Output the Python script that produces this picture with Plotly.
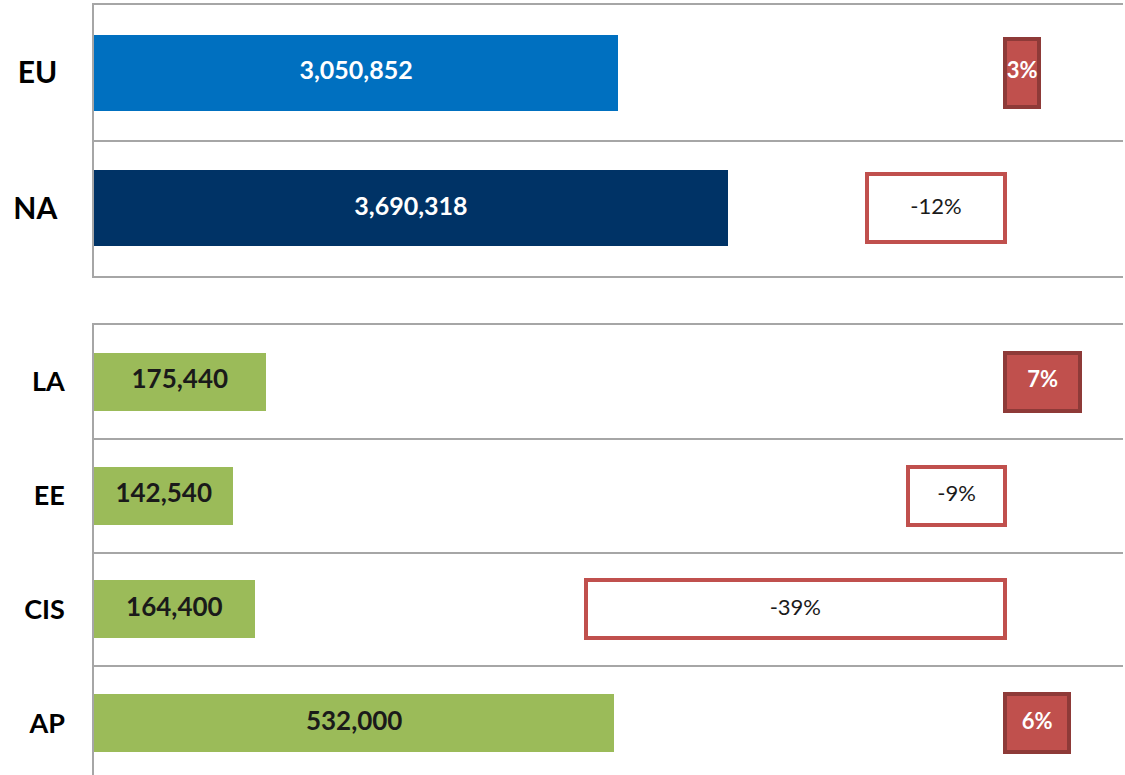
import plotly.graph_objects as go

# ---- data ----
top_regions = ["EU", "NA"]
top_volumes = [3050852, 3690318]
top_changes = [3, -12]
top_colors = ["#0070C0", "#003366"]

bottom_regions = ["LA", "EE", "CIS", "AP"]
bottom_volumes = [175440, 142540, 164400, 532000]
bottom_changes = [7, -9, -39, 6]
bottom_color = "#9BBB59"

POS_FILL = "#C0504D"
POS_LINE = "#8E3A38"
NEG_LINE = "#C0504D"
GRID = "#A6A6A6"
FONT = "Lato"


def fmt(v):
    return f"{v:,}"


def pct(v):
    return f"{v}%"


fig = go.Figure()


def add_panel(regions, volumes, changes, colors, xa, xp, ya, bar_w, pct_w,
              vol_font_color, vol_size, pct_size):
    fig.add_trace(go.Bar(
        y=regions, x=volumes, orientation="h", xaxis=xa, yaxis=ya,
        width=bar_w, marker=dict(color=colors, line=dict(width=0)),
        hoverinfo="skip", showlegend=False))
    fig.add_trace(go.Scatter(
        y=regions, x=[v / 2 for v in volumes], mode="text", xaxis=xa, yaxis=ya,
        text=[fmt(v) for v in volumes], textposition="middle center",
        textfont=dict(family=FONT, size=vol_size, color=vol_font_color, weight="bold"),
        hoverinfo="skip", showlegend=False))
    fig.add_trace(go.Bar(
        y=regions, x=changes, orientation="h", xaxis=xp, yaxis=ya,
        width=pct_w,
        marker=dict(color=[POS_FILL if c > 0 else "white" for c in changes],
                    line=dict(color=[POS_LINE if c > 0 else NEG_LINE for c in changes],
                              width=4)),
        hoverinfo="skip", showlegend=False))
    fig.add_trace(go.Scatter(
        y=regions, x=[c / 2 for c in changes], mode="text", xaxis=xp, yaxis=ya,
        text=[pct(c) for c in changes], textposition="middle center",
        textfont=dict(family=FONT, size=pct_size,
                      color=["white" if c > 0 else "#1A1A1A" for c in changes],
                      weight=["bold" if c > 0 else "normal" for c in changes]),
        hoverinfo="skip", showlegend=False))


add_panel(top_regions, top_volumes, top_changes, top_colors,
          "x", "x2", "y", 0.56, 0.5, "white", 25, 22)
add_panel(bottom_regions, bottom_volumes, bottom_changes,
          [bottom_color] * len(bottom_regions),
          "x3", "x4", "y2", 0.51, 0.51, "#1A1A1A", 26, 22)

hidden_x = dict(showgrid=False, zeroline=False, showticklabels=False,
                ticks="", fixedrange=True)

H = 775.0
fig.update_layout(
    width=1125, height=775,
    margin=dict(l=94, r=2, t=0, b=0),
    paper_bgcolor="white", plot_bgcolor="white",
    bargap=0, barmode="overlay",
    xaxis=dict(hidden_x, anchor="y", domain=[0, 1], range=[0, 5990000],
               showline=True, mirror=True, linecolor=GRID, linewidth=1.5),
    xaxis2=dict(hidden_x, anchor="y", overlaying="x", range=[-79.2, 10.26],
                showline=False),
    xaxis3=dict(hidden_x, anchor="y2", domain=[0, 1], range=[0, 1052000],
                showline=False),
    xaxis4=dict(hidden_x, anchor="y2", overlaying="x3", range=[-84.74, 10.98],
                side="top", showline=True, linecolor=GRID, linewidth=1.5),
    yaxis=dict(
        type="category", categoryorder="array",
        categoryarray=top_regions[::-1],
        domain=[(H - 276) / H, (H - 5) / H], range=[-0.5, 1.5],
        tickson="boundaries", ticks="", showgrid=True, gridcolor=GRID, gridwidth=1.5,
        showline=True, linecolor=GRID, linewidth=1.5, zeroline=False,
        tickfont=dict(family=FONT, size=30, color="black", weight="bold"),
        ticklabelstandoff=29, anchor="x"),
    yaxis2=dict(
        type="category", categoryorder="array",
        categoryarray=bottom_regions[::-1],
        domain=[0, (H - 325) / H], range=[-0.456, 3.5],
        tickson="boundaries", ticks="", showgrid=True, gridcolor=GRID, gridwidth=1.5,
        showline=True, linecolor=GRID, linewidth=1.5, zeroline=False,
        tickfont=dict(family=FONT, size=27, color="black", weight="bold"),
        ticklabelstandoff=22, anchor="x3"),
)

fig.write_html("out.html")
